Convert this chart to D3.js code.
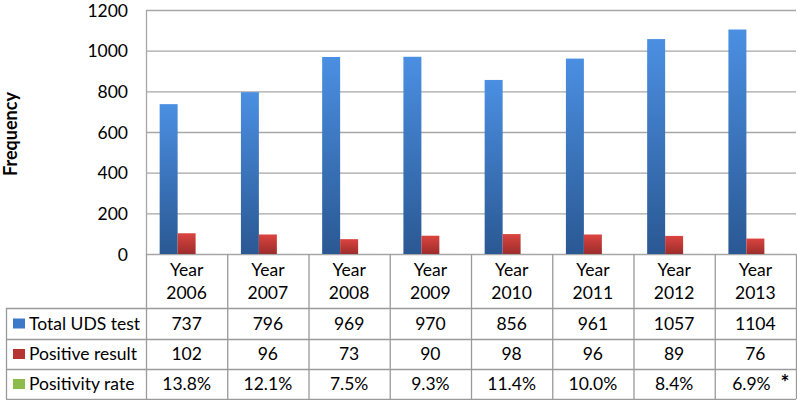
<!DOCTYPE html>
<html>
<head>
<meta charset="utf-8">
<script src="https://cdn.jsdelivr.net/npm/d3@7"></script>
<style>
  body { margin: 0; background: #fff; }
  text { font-family: Lato, "Open Sans", sans-serif; fill: #000; }
</style>
</head>
<body>
<svg width="797" height="400"></svg>
<script>
// data
const years = ["2006", "2007", "2008", "2009", "2010", "2011", "2012", "2013"];
const totalTests = [737, 796, 969, 970, 856, 961, 1057, 1104];
const positiveResults = [102, 96, 73, 90, 98, 96, 89, 76];
const positivityRate = [0.138, 0.121, 0.075, 0.093, 0.114, 0.100, 0.084, 0.069];
const rateLabels = ["13.8%", "12.1%", "7.5%", "9.3%", "11.4%", "10.0%", "8.4%", "6.9%"];
const seriesNames = ["Total UDS test", "Positive result", "Positivity rate"];
const yTicks = [0, 200, 400, 600, 800, 1000, 1200];

const legendColors = ["#3d79c9", "#b53431", "#8dbb4c"];
const grid_color = "#a6a6a6";
const border_color = "#9a9a9a";
const fontSize = "17.5px";

const plotLeft = 146, plotRight = 796, plotTop = 10, plotBottom = 254;
const tableLeft = 6;
const rowEdges = [254, 308, 339, 369, 399];

var svg = d3.select("svg");
var defs = svg.append("defs");

// excel 2007 style vertical gradients
function addGradient(id, top, bottom) {
  var gr = defs.append("linearGradient").attr("id", id)
    .attr("x1", 0).attr("y1", 0).attr("x2", 0).attr("y2", 1);
  gr.append("stop").attr("offset", "0%").attr("stop-color", top);
  gr.append("stop").attr("offset", "100%").attr("stop-color", bottom);
}
addGradient("gBlue", "#4b8fe2", "#2a5893");
addGradient("gRed", "#db4440", "#9c2d2b");
addGradient("gGreen", "#a6d060", "#7aa23e");
const barFills = ["url(#gBlue)", "url(#gRed)", "url(#gGreen)"];

var x = d3.scaleBand().domain(years).range([plotLeft, plotRight]).padding(0);
var xs = d3.scaleBand().domain(d3.range(3)).range([0, x.bandwidth()])
  .paddingInner(0).paddingOuter(0.76);
var y = d3.scaleLinear().domain([0, 1200]).range([plotBottom, plotTop]);

// gridlines
svg.append("g").selectAll("line").data(yTicks).enter().append("line")
  .attr("x1", plotLeft).attr("x2", plotRight)
  .attr("y1", d => y(d) + 0.5).attr("y2", d => y(d) + 0.5)
  .style("stroke", grid_color).style("stroke-width", 1.3);

// left axis line
svg.append("line")
  .attr("x1", plotLeft + 0.5).attr("x2", plotLeft + 0.5)
  .attr("y1", plotTop).attr("y2", plotBottom)
  .style("stroke", grid_color).style("stroke-width", 1.3);

// y axis labels
var yAxis = d3.axisLeft(y).tickValues(yTicks).tickFormat(d3.format("d"))
  .tickSize(0).tickPadding(18);
var ya = svg.append("g").attr("transform", `translate(${plotLeft},0)`).call(yAxis);
ya.select(".domain").remove();
ya.selectAll("text").style("font-family", "Lato, sans-serif").style("font-size", fontSize)
  .attr("fill", "#000").attr("dy", "0.36em");

svg.append("text")
  .attr("transform", `translate(17,${(plotTop + plotBottom) / 2 + 2}) rotate(-90)`)
  .attr("text-anchor", "middle")
  .style("font-size", "18px").style("font-weight", "bold")
  .text("Frequency");

// bars
const seriesValues = [totalTests, positiveResults, positivityRate];
var groups = svg.append("g").selectAll("g").data(years).enter().append("g")
  .attr("transform", d => `translate(${x(d)},0)`);
groups.selectAll("rect")
  .data((d, i) => seriesValues.map((vals, s) => ({ s: s, v: vals[i] })))
  .enter().append("rect")
  .attr("x", d => xs(d.s))
  .attr("width", xs.bandwidth())
  .attr("y", d => y(d.v))
  .attr("height", d => plotBottom - y(d.v))
  .style("fill", d => barFills[d.s]);

// data table
var tbl = svg.append("g");
function hline(x1, x2, yy) {
  tbl.append("line").attr("x1", x1).attr("x2", x2).attr("y1", yy + 0.5).attr("y2", yy + 0.5)
    .style("stroke", border_color).style("stroke-width", 1.3);
}
function vline(xx, y1, y2) {
  tbl.append("line").attr("x1", xx + 0.5).attr("x2", xx + 0.5).attr("y1", y1).attr("y2", y2)
    .style("stroke", border_color).style("stroke-width", 1.3);
}
hline(tableLeft, plotRight, rowEdges[1]);
hline(tableLeft, plotRight, rowEdges[2]);
hline(tableLeft, plotRight, rowEdges[3]);
hline(tableLeft, plotRight, rowEdges[4]);
vline(tableLeft, rowEdges[1], rowEdges[4]);
years.forEach(yr => vline(x(yr), rowEdges[0], rowEdges[4]));
vline(plotRight, rowEdges[0], rowEdges[4]);

// header
years.forEach(yr => {
  var cx = x(yr) + x.bandwidth() / 2;
  tbl.append("text").attr("x", cx).attr("y", 276).attr("text-anchor", "middle")
    .style("font-size", fontSize).text("Year");
  tbl.append("text").attr("x", cx).attr("y", 299).attr("text-anchor", "middle")
    .style("font-size", fontSize).text(yr);
});

// rows
const rowTexts = [totalTests.map(String), positiveResults.map(String), rateLabels];
seriesNames.forEach((name, r) => {
  var mid = (rowEdges[r + 1] + rowEdges[r + 2]) / 2;
  tbl.append("rect").attr("x", 13).attr("y", mid - 5).attr("width", 12).attr("height", 10)
    .style("fill", legendColors[r]);
  tbl.append("text").attr("x", 29).attr("y", mid).attr("dy", "0.36em")
    .style("font-size", fontSize).text(name);
  years.forEach((yr, i) => {
    var last = (r == 2 && i == 7);
    tbl.append("text")
      .attr("x", x(yr) + x.bandwidth() / 2 + (last ? -4 : 0))
      .attr("y", mid).attr("dy", "0.36em").attr("text-anchor", "middle")
      .style("font-size", fontSize).text(rowTexts[r][i]);
    if (last) {
      tbl.append("text").attr("x", x(yr) + x.bandwidth() / 2 + 25).attr("y", mid - 2)
        .attr("dy", "0.36em").style("font-size", "21px").style("font-weight", "bold")
        .text("*");
    }
  });
});
</script>
</body>
</html>
